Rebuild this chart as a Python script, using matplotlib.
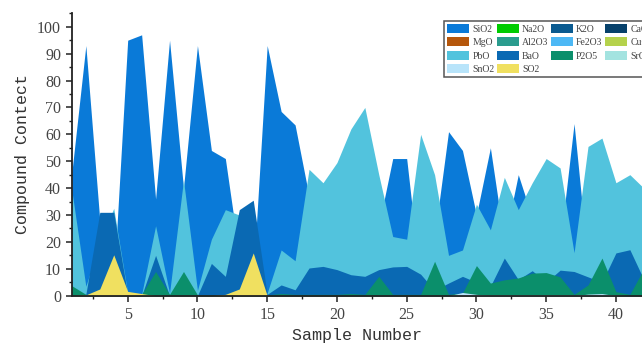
import matplotlib
matplotlib.use("Agg")
import matplotlib.pyplot as plt
from matplotlib.ticker import MultipleLocator

samples = list(range(1, 43))

SiO2 = [46, 93, 28, 5, 95, 97, 36, 95, 40, 93, 54, 51, 15, 7, 93, 68.5, 63.5, 37, 33, 28, 30,
        25, 26, 51, 51, 5, 22, 61, 54, 30, 55, 20, 45, 29, 25, 19, 64, 12, 15, 20, 25, 20]
Na2O = [0, 0, 0.5, 0.5, 0, 0, 0, 0, 0.5, 0, 0, 0, 0.5, 0.5, 0, 0, 0, 0, 0, 0, 0,
        0, 0, 0, 0, 0, 0, 0, 0, 0, 0, 0, 0, 0, 0, 0, 0, 0, 0, 0, 0, 0]
K2O = [0.8, 0.3, 1, 1, 0.2, 0.2, 0.5, 0.2, 0.8, 0.2, 0.5, 0.6, 0.4, 0.3, 0.1, 0.4, 0.3, 0.3, 0.2, 0.4, 0.3,
       0.3, 0.4, 0.5, 0.4, 0.3, 0.2, 0.3, 0.4, 0.3, 0.2, 0.3, 0.4, 0.3, 0.2, 0.3, 0.4, 0.3, 0.2, 0.3, 0.4, 0.3]
CaO = [1.5, 0.5, 2, 2.5, 0.2, 0.2, 2, 0.2, 3, 0.3, 1.5, 2, 1.5, 1, 0.2, 1.5, 1, 2, 1.5, 2, 1.5,
       1.5, 2, 2.5, 2, 1.5, 2, 2.5, 2, 1.5, 1.5, 2, 2, 1.5, 2, 2.5, 1.5, 2, 1.5, 2, 2, 1.5]
MgO = [0.5, 0.2, 0.8, 0.8, 0.1, 0.1, 0.6, 0.1, 0.7, 0.1, 0.5, 0.6, 0.5, 0.4, 0.1, 0.5, 0.4, 0.6, 0.5, 0.6, 0.5,
       0.5, 0.6, 0.7, 0.6, 0.5, 0.6, 0.7, 0.6, 0.5, 0.5, 0.6, 0.6, 0.5, 0.6, 0.7, 0.5, 0.6, 0.5, 0.6, 0.6, 0.5]
Al2O3 = [3, 1, 4, 5, 0.3, 0.3, 4, 0.3, 5, 0.5, 3, 4, 3, 3, 0.4, 3, 2.5, 4, 3, 3.5, 2.5,
         3, 3.5, 4, 4, 3, 3.5, 4, 3.5, 3, 3, 4, 3.5, 3, 3.5, 4, 3, 3.5, 3, 4, 3.5, 3]
Fe2O3 = [0.8, 0.3, 1.2, 1.5, 0.2, 0.2, 1, 0.2, 1.5, 0.2, 1, 1.2, 1, 0.8, 0.2, 1, 0.8, 1.2, 1, 1.2, 0.8,
         1, 1.2, 1.5, 1.2, 1, 1.2, 1.5, 1.2, 1, 1, 1.2, 1.2, 1, 1.2, 1.5, 1, 1.2, 1, 1.2, 1.2, 1]
CuO = [1, 0.4, 1.5, 2, 0.2, 0.2, 1.5, 0.2, 2, 0.3, 1.5, 2, 1.5, 1.5, 0.2, 1.5, 1.2, 1.5, 1.2, 1.5, 1.2,
       1.2, 1.5, 2, 1.5, 1.2, 1.5, 2, 1.5, 1.2, 1.2, 1.5, 1.5, 1.2, 1.5, 2, 1.2, 1.5, 1.2, 1.5, 1.5, 1.2]
PbO = [39, 3.5, 20, 32.5, 1, 0.5, 26, 1, 43, 2, 21, 32, 30, 5, 1, 17, 13, 47, 42, 49.5, 62,
       70, 45, 22, 21, 60, 45, 15, 17, 34, 24.5, 44, 32, 42, 51, 47.5, 16, 55.5, 58.6, 42, 45, 40]
BaO = [0, 0.5, 31, 31, 0.5, 0, 15, 0, 0, 0, 12, 7.2, 32, 35.5, 0.5, 4, 2.2, 10.3, 10.9, 9.7, 7.8,
       7.2, 9.7, 10.7, 10.9, 8, 2, 4.7, 7.2, 5, 3.5, 14, 6, 9.3, 5, 9.5, 9, 7, 5, 15.9, 17.1, 6]
P2O5 = [3.7, 0.5, 0, 0, 0, 0.5, 9, 0.5, 9, 0.3, 0.3, 0.2, 0.3, 0.5, 0.3, 0.8, 0.5, 0.5, 0.5, 0.5, 0.8,
        0.5, 7.2, 0.5, 0.5, 0.5, 12.8, 0.5, 1, 11.2, 4.7, 5.9, 6.6, 8.4, 8.6, 7, 0.5, 4, 14, 1.5, 0.5, 10]
SrO = [0, 0, 0, 0, 0, 0, 0, 0, 0, 0, 0, 0, 0, 0, 0, 0, 0, 0, 0, 0, 0,
       0, 0, 0, 0, 0, 0, 0, 0.3, 0.3, 0.3, 0.3, 0.3, 0.3, 0.3, 0.3, 0.3, 0.3, 0.3, 0.3, 0, 0]
SnO2 = [0, 0, 0, 0, 0, 0, 0, 0, 0, 0, 0, 0, 0, 0, 0, 0, 0, 0, 0, 0, 0,
        0, 0, 0, 0, 0, 0, 0, 1.2, 0.5, 0, 0, 0, 0, 0, 0, 0, 0.6, 0.8, 0, 0, 0]
SO2 = [0, 0.3, 2.5, 15.2, 1.6, 0.8, 0, 0, 0, 0, 0, 0.5, 2.5, 15.9, 0, 0, 0, 0, 0, 0, 0,
       0, 0, 0, 0, 0, 0, 0, 0, 0, 0, 0, 0, 0, 0, 0, 0, 0, 0, 0, 0, 0]

names = ["SiO2", "Na2O", "K2O", "CaO", "MgO", "Al2O3", "Fe2O3", "CuO",
         "PbO", "BaO", "P2O5", "SrO", "SnO2", "SO2"]
series = [SiO2, Na2O, K2O, CaO, MgO, Al2O3, Fe2O3, CuO, PbO, BaO, P2O5, SrO, SnO2, SO2]
colors = ["#0A7AD8", "#00CC00", "#0A5A90", "#07416B", "#B5570C", "#2A9C8E", "#4DB8F5",
          "#B5D24C", "#52C3DD", "#0A69B3", "#0B8F6B", "#A3E3E0", "#B8E4FA", "#F0E060"]

fig = plt.figure(figsize=(6.42, 3.52), dpi=100)
ax = fig.add_axes([71.9 / 642, 1 - 295.7 / 352, (642 - 71.9) / 642, (295.7 - 13.3) / 352])

handles = {}
for name, vals, col in zip(names, series, colors):
    h = ax.fill_between(samples, 0, vals, color=col, linewidth=0, label=name)
    handles[name] = h

ax.set_xlim(1, 41.87)
ax.set_ylim(0, 105)

for s in ["top", "right"]:
    ax.spines[s].set_visible(False)
for s in ["left", "bottom"]:
    ax.spines[s].set_linewidth(1.3)
    ax.spines[s].set_color("#222222")

ax.xaxis.set_major_locator(MultipleLocator(5))
ax.xaxis.set_minor_locator(MultipleLocator(2.5))
ax.yaxis.set_major_locator(MultipleLocator(10))
ax.yaxis.set_minor_locator(MultipleLocator(5))
ax.tick_params(which="major", direction="out", length=4.3, width=1.1, color="#222222",
               labelsize=11.5, labelcolor="#444444", pad=3.5)
ax.tick_params(which="minor", direction="out", length=2.3, width=1.0, color="#222222")
for lab in ax.get_xticklabels() + ax.get_yticklabels():
    lab.set_family("Liberation Serif")

ax.set_xlabel("Sample Number", family="Liberation Mono", fontsize=12, color="#333333", labelpad=4)
ax.set_ylabel("Compound Contect", family="Liberation Mono", fontsize=12, color="#333333", labelpad=5)

order = ["SiO2", "MgO", "PbO", "SnO2",
         "Na2O", "Al2O3", "BaO", "SO2",
         "K2O", "Fe2O3", "P2O5",
         "CaO", "CuO", "SrO"]
leg = fig.legend([handles[n] for n in order], order, loc="upper left",
                 bbox_to_anchor=(444 / 642, 1 - 20.7 / 352), ncol=4,
                 prop={"family": "Liberation Serif", "size": 7},
                 handlelength=2.2, handleheight=1.0, handletextpad=0.35,
                 columnspacing=0.3, labelspacing=0.38, borderpad=0.35, borderaxespad=0,
                 fancybox=False, framealpha=1, edgecolor="#555555")
leg.get_frame().set_linewidth(1.1)
for t in leg.get_texts():
    t.set_color("#444444")

fig.savefig("out.png", dpi=100)
